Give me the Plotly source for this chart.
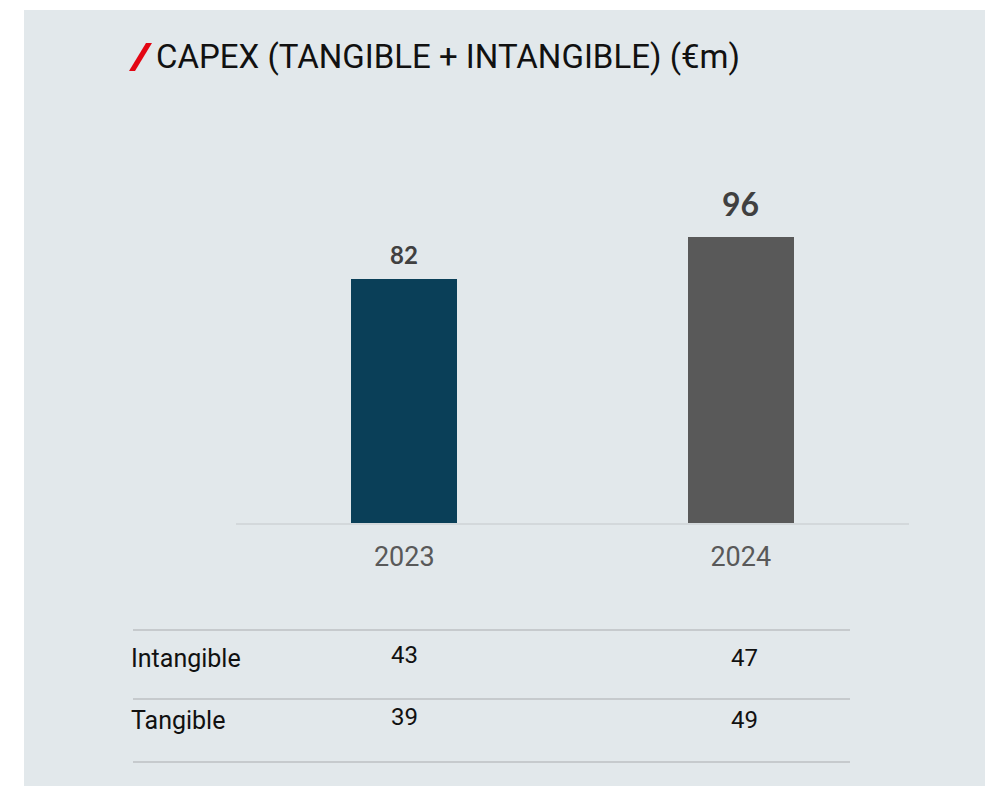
import plotly.graph_objects as go

# --- data -------------------------------------------------------------
years = ["2023", "2024"]
capex_total = [82, 96]
intangible = [43, 47]
tangible = [39, 49]
row_labels = ["Intangible", "Tangible"]
title_text = "CAPEX (TANGIBLE + INTANGIBLE) (€m)"

# --- canvas helpers ---------------------------------------------------
W, H = 985, 786


def px(x):
    return x / W


def py(y):
    return 1 - y / H


BG = "#E2E8EB"
BAR_COLORS = ["#0A3F58", "#595959"]

fig = go.Figure()

fig.add_trace(
    go.Bar(
        x=years,
        y=capex_total,
        marker=dict(color=BAR_COLORS, line=dict(width=0)),
        width=0.315,
        hoverinfo="skip",
        showlegend=False,
    )
)

# panel background
shapes = [
    dict(type="rect", xref="paper", yref="paper",
         x0=px(24), x1=1.0, y0=0, y1=py(10),
         fillcolor=BG, line=dict(width=0), layer="below"),
    # red accent slash in front of the title
    dict(type="path", xref="paper", yref="paper",
         path=f"M {px(129)} {py(71)} L {px(135)} {py(71)} L {px(152)} {py(43)} L {px(146)} {py(43)} Z",
         fillcolor="#E30613", line=dict(width=0)),
]

# table rules
for yy in (630, 699, 762):
    shapes.append(dict(type="line", xref="paper", yref="paper",
                       x0=px(133), x1=px(850), y0=py(yy), y1=py(yy),
                       line=dict(color="#C6CACD", width=2)))

annotations = [
    dict(text=title_text, xref="paper", yref="paper",
         x=px(154), y=py(57), xanchor="left", yanchor="middle",
         showarrow=False, font=dict(family="Roboto", size=33, color="#111111")),
]

# value labels above bars (category index used as x position)
label_sizes = [24, 32]
label_shift = [8, 12]
for i, (v, s, sh) in enumerate(zip(capex_total, label_sizes, label_shift)):
    annotations.append(dict(text=f"<b>{v}</b>", x=i, y=v, xref="x", yref="y",
                            yanchor="bottom", yshift=sh, showarrow=False,
                            font=dict(family="Lato", size=s, color="#404040")))

# breakdown table
row_y = [658, 720]
for lbl, yy in zip(row_labels, row_y):
    annotations.append(dict(text=lbl, xref="paper", yref="paper",
                            x=px(129), y=py(yy), xanchor="left", yanchor="middle",
                            showarrow=False,
                            font=dict(family="Roboto", size=25, color="#111111")))

for row_vals, yy in zip([intangible, tangible], row_y):
    for i, v in enumerate(row_vals):
        annotations.append(dict(text=str(v), xref="x", yref="paper",
                                x=i, y=py(yy - 3 + 3 * i), xanchor="center", yanchor="middle",
                                xshift=4 * i, showarrow=False,
                                font=dict(family="Roboto", size=24, color="#111111")))

# plot area geometry (pixels)
x_left, x_right = 236, 909
y_base, y_top = 523, 100
scale = 2.98  # px per €m
y_max = (y_base - y_top) / scale

fig.update_layout(
    width=W, height=H,
    margin=dict(l=0, r=0, t=0, b=0),
    paper_bgcolor="white",
    plot_bgcolor="rgba(0,0,0,0)",
    shapes=shapes,
    annotations=annotations,
    bargap=0,
    xaxis=dict(
        domain=[px(x_left), px(x_right)],
        type="category",
        range=[-0.5, 1.5],
        showgrid=False, zeroline=False,
        showline=True, linecolor="#D3D8DB", linewidth=2,
        ticks="outside", ticklen=9, tickcolor="rgba(0,0,0,0)",
        tickfont=dict(family="Roboto", size=27, color="#595959"),
        fixedrange=True,
    ),
    yaxis=dict(
        domain=[py(y_base), py(y_top)],
        range=[0, y_max],
        visible=False,
        fixedrange=True,
    ),
)

fig.write_html("out.html")
